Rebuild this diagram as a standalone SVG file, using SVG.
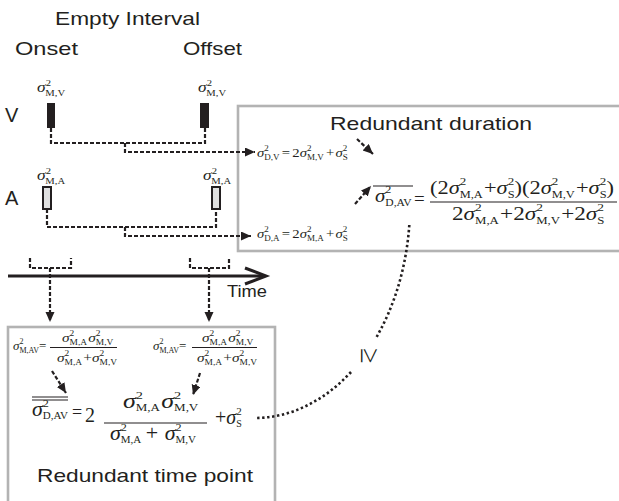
<svg xmlns="http://www.w3.org/2000/svg" width="619" height="501" viewBox="0 0 619 501">
<style>
.lbl{font-family:"Liberation Sans",Arial,Helvetica,sans-serif;fill:#231f20}
.m{font-family:"Liberation Serif","Times New Roman",serif;fill:#231f20}
.i{font-style:italic}
.dash{stroke:#231f20;stroke-width:2.2;stroke-dasharray:4 2;fill:none}
.dot{stroke:#231f20;stroke-width:2.6;stroke-dasharray:2.4 2.6;fill:none}
.box{stroke:#b3b3b3;stroke-width:2.6;fill:none}
.bar{stroke:#231f20;stroke-width:1.1}
</style>
<defs>
<marker id="ah" markerUnits="userSpaceOnUse" markerWidth="12" markerHeight="10" refX="10" refY="4.5" orient="auto">
<path d="M0,0 L10,4.5 L0,9 z" fill="#231f20"/>
</marker>
</defs>

<g id="boxes">
<rect class="box" x="238" y="106" width="400" height="145"/>
<rect class="box" x="8" y="327" width="267" height="200"/>
</g>

<g id="header">
<text class="lbl" x="55" y="25" font-size="19" textLength="145" lengthAdjust="spacingAndGlyphs">Empty Interval</text>
<text class="lbl" x="15" y="55" font-size="19" textLength="63" lengthAdjust="spacingAndGlyphs">Onset</text>
<text class="lbl" x="183" y="55" font-size="19" textLength="59" lengthAdjust="spacingAndGlyphs">Offset</text>
</g>

<g id="visual">
<text class="lbl" x="5" y="122" font-size="20">V</text>
<rect x="47" y="103" width="8" height="25" fill="#231f20"/>
<rect x="200" y="103" width="9" height="25" fill="#231f20"/>
<g transform="translate(37,92) scale(1.25,1)"><text class="m" font-size="14"><tspan class="i">σ</tspan><tspan font-size="8.5" dy="-6.5">2</tspan><tspan font-size="8.5" dx="-4.5" dy="10">M,V</tspan></text></g>
<g transform="translate(198,92) scale(1.25,1)"><text class="m" font-size="14"><tspan class="i">σ</tspan><tspan font-size="8.5" dy="-6.5">2</tspan><tspan font-size="8.5" dx="-4.5" dy="10">M,V</tspan></text></g>
</g>

<g id="auditory">
<text class="lbl" x="5" y="205" font-size="20">A</text>
<rect x="43" y="187" width="8" height="22" fill="#e0e0e0" stroke="#231f20" stroke-width="2"/>
<rect x="212" y="187" width="8" height="22" fill="#e0e0e0" stroke="#231f20" stroke-width="2"/>
<g transform="translate(37,180) scale(1.25,1)"><text class="m" font-size="14"><tspan class="i">σ</tspan><tspan font-size="8.5" dy="-6.5">2</tspan><tspan font-size="8.5" dx="-4.5" dy="10">M,A</tspan></text></g>
<g transform="translate(203,180) scale(1.25,1)"><text class="m" font-size="14"><tspan class="i">σ</tspan><tspan font-size="8.5" dy="-6.5">2</tspan><tspan font-size="8.5" dx="-4.5" dy="10">M,A</tspan></text></g>
</g>

<g id="time-axis">
<line x1="8" y1="276" x2="265" y2="276" stroke="#231f20" stroke-width="3"/>
<polyline points="245,268 266,276 245,284" fill="none" stroke="#231f20" stroke-width="3"/>
<text class="lbl" x="227" y="297" font-size="17" textLength="40" lengthAdjust="spacingAndGlyphs">Time</text>
</g>

<g id="duration">
<text class="lbl" x="330" y="130" font-size="19" textLength="202" lengthAdjust="spacingAndGlyphs">Redundant duration</text>
<g transform="translate(257,157) scale(1.13,1)"><text class="m" font-size="13"><tspan class="i">σ</tspan><tspan font-size="8" dy="-6">2</tspan><tspan font-size="8" dx="-4" dy="9">D,V</tspan><tspan dy="-3" dx="2">=</tspan><tspan dx="2">2</tspan><tspan class="i">σ</tspan><tspan font-size="8" dy="-6">2</tspan><tspan font-size="8" dx="-4" dy="9">M,V</tspan><tspan dy="-3" dx="2">+</tspan><tspan class="i" dx="1">σ</tspan><tspan font-size="8" dy="-6">2</tspan><tspan font-size="8" dx="-4" dy="9">S</tspan></text></g>
<g transform="translate(257,238) scale(1.13,1)"><text class="m" font-size="13"><tspan class="i">σ</tspan><tspan font-size="8" dy="-6">2</tspan><tspan font-size="8" dx="-4" dy="9">D,A</tspan><tspan dy="-3" dx="2">=</tspan><tspan dx="2">2</tspan><tspan class="i">σ</tspan><tspan font-size="8" dy="-6">2</tspan><tspan font-size="8" dx="-4" dy="9">M,A</tspan><tspan dy="-3" dx="2">+</tspan><tspan class="i" dx="1">σ</tspan><tspan font-size="8" dy="-6">2</tspan><tspan font-size="8" dx="-4" dy="9">S</tspan></text></g>
<line class="bar" x1="373" y1="186" x2="413" y2="186"/>
<g transform="translate(375,202) scale(1.1,1)"><text class="m" font-size="19"><tspan class="i">σ</tspan><tspan font-size="11" dy="-9">2</tspan><tspan font-size="10.5" dx="-5.5" dy="13">D,AV</tspan></text></g>
<text class="m" x="414" y="205" font-size="19">=</text>
<line class="bar" x1="430" y1="202" x2="617" y2="202"/>
<g transform="translate(430,194) scale(1.18,1)"><text class="m" font-size="19"><tspan>(2</tspan><tspan class="i">σ</tspan><tspan font-size="11" dy="-9">2</tspan><tspan font-size="10.5" dx="-5.5" dy="13">M,A</tspan><tspan dy="-4" dx="1">+</tspan><tspan class="i">σ</tspan><tspan font-size="11" dy="-9">2</tspan><tspan font-size="10.5" dx="-5.5" dy="13">S</tspan><tspan dy="-4">)(2</tspan><tspan class="i">σ</tspan><tspan font-size="11" dy="-9">2</tspan><tspan font-size="10.5" dx="-5.5" dy="13">M,V</tspan><tspan dy="-4" dx="1">+</tspan><tspan class="i">σ</tspan><tspan font-size="11" dy="-9">2</tspan><tspan font-size="10.5" dx="-5.5" dy="13">S</tspan><tspan dy="-4">)</tspan></text></g>
<g transform="translate(452,220) scale(1.22,1)"><text class="m" font-size="19"><tspan>2</tspan><tspan class="i">σ</tspan><tspan font-size="11" dy="-9">2</tspan><tspan font-size="10.5" dx="-5.5" dy="13">M,A</tspan><tspan dy="-4" dx="1">+2</tspan><tspan class="i">σ</tspan><tspan font-size="11" dy="-9">2</tspan><tspan font-size="10.5" dx="-5.5" dy="13">M,V</tspan><tspan dy="-4" dx="1">+2</tspan><tspan class="i">σ</tspan><tspan font-size="11" dy="-9">2</tspan><tspan font-size="10.5" dx="-5.5" dy="13">S</tspan></text></g>
</g>

<g id="timepoint">
<g transform="translate(13,350)"><text class="m" font-size="13"><tspan class="i">σ</tspan><tspan font-size="8" dy="-6">2</tspan><tspan font-size="8" dx="-4" dy="8.5">M,AV</tspan><tspan dy="-2.5">=</tspan></text></g>
<line class="bar" x1="50" y1="347.5" x2="117" y2="347.5"/>
<g transform="translate(62,342) scale(1.18,1)"><text class="m" font-size="13"><tspan class="i">σ</tspan><tspan font-size="8" dy="-6">2</tspan><tspan font-size="8" dx="-4" dy="8.5">M,A</tspan><tspan class="i" dy="-2.5" dx="1">σ</tspan><tspan font-size="8" dy="-6">2</tspan><tspan font-size="8" dx="-4" dy="8.5">M,V</tspan></text></g>
<g transform="translate(57,362) scale(1.18,1)"><text class="m" font-size="13"><tspan class="i">σ</tspan><tspan font-size="8" dy="-6">2</tspan><tspan font-size="8" dx="-4" dy="8.5">M,A</tspan><tspan dy="-2.5" dx="1">+</tspan><tspan class="i">σ</tspan><tspan font-size="8" dy="-6">2</tspan><tspan font-size="8" dx="-4" dy="8.5">M,V</tspan></text></g>

<g transform="translate(153,350)"><text class="m" font-size="13"><tspan class="i">σ</tspan><tspan font-size="8" dy="-6">2</tspan><tspan font-size="8" dx="-4" dy="8.5">M,AV</tspan><tspan dy="-2.5">=</tspan></text></g>
<line class="bar" x1="192" y1="347.5" x2="257" y2="347.5"/>
<g transform="translate(202,342) scale(1.18,1)"><text class="m" font-size="13"><tspan class="i">σ</tspan><tspan font-size="8" dy="-6">2</tspan><tspan font-size="8" dx="-4" dy="8.5">M,A</tspan><tspan class="i" dy="-2.5" dx="1">σ</tspan><tspan font-size="8" dy="-6">2</tspan><tspan font-size="8" dx="-4" dy="8.5">M,V</tspan></text></g>
<g transform="translate(197,362) scale(1.18,1)"><text class="m" font-size="13"><tspan class="i">σ</tspan><tspan font-size="8" dy="-6">2</tspan><tspan font-size="8" dx="-4" dy="8.5">M,A</tspan><tspan dy="-2.5" dx="1">+</tspan><tspan class="i">σ</tspan><tspan font-size="8" dy="-6">2</tspan><tspan font-size="8" dx="-4" dy="8.5">M,V</tspan></text></g>

<line class="bar" x1="32" y1="397" x2="68" y2="397"/>
<line class="bar" x1="32" y1="400" x2="68" y2="400"/>
<g transform="translate(32,416) scale(1.1,1)"><text class="m" font-size="20"><tspan class="i">σ</tspan><tspan font-size="11" dy="-9">2</tspan><tspan font-size="10" dx="-5.5" dy="12">D,AV</tspan></text></g>
<text class="m" x="72" y="418" font-size="18">=</text>
<text class="m" x="85" y="422" font-size="20">2</text>
<line class="bar" x1="104" y1="423" x2="207" y2="423"/>
<g transform="translate(123,408) scale(1.3,1)"><text class="m" font-size="20"><tspan class="i">σ</tspan><tspan font-size="11" dy="-9">2</tspan><tspan font-size="10" dx="-5.5" dy="12">M,A</tspan><tspan class="i" dy="-3" dx="1">σ</tspan><tspan font-size="11" dy="-9">2</tspan><tspan font-size="10" dx="-5.5" dy="12">M,V</tspan></text></g>
<g transform="translate(110,440) scale(1.1,1)"><text class="m" font-size="20"><tspan class="i">σ</tspan><tspan font-size="11" dy="-9">2</tspan><tspan font-size="10" dx="-5.5" dy="12">M,A</tspan><tspan dy="-3" dx="4">+</tspan><tspan class="i" dx="6">σ</tspan><tspan font-size="11" dy="-9">2</tspan><tspan font-size="10" dx="-5.5" dy="12">M,V</tspan></text></g>
<text class="m" x="215" y="424" font-size="20"><tspan>+</tspan><tspan class="i">σ</tspan><tspan font-size="11" dy="-9">2</tspan><tspan font-size="10" dx="-5.5" dy="12">S</tspan></text>
<text class="lbl" x="37" y="482" font-size="19" textLength="216" lengthAdjust="spacingAndGlyphs">Redundant time point</text>
</g>

<g id="connectors">
<path class="dash" d="M51,128 V143 H205 V128"/>
<path class="dash" d="M125,143 V152 H255" marker-end="url(#ah)"/>
<path class="dash" d="M47,209 V227 H216 V209"/>
<path class="dash" d="M125,227 V236 H251" marker-end="url(#ah)"/>
<path class="dash" d="M30,258 V268 H71 V258"/>
<path class="dash" d="M50,268 V322" marker-end="url(#ah)"/>
<path class="dash" d="M190,258 V268 H229 V258"/>
<path class="dash" d="M209,268 V322" marker-end="url(#ah)"/>
<path class="dash" d="M357,139 L373,154" marker-end="url(#ah)"/>
<path class="dash" d="M355,204 L371,186" marker-end="url(#ah)"/>
<path class="dash" d="M52,371 L66,393" marker-end="url(#ah)"/>
<path class="dash" d="M200,373 L193,395" marker-end="url(#ah)"/>
<path class="dot" d="M409.3,225 A155,213 0 0 1 376,338"/>
<path class="dot" d="M351,372 A155,213 0 0 1 255,418"/>
<text class="m" x="0" y="0" font-size="28" text-anchor="middle" transform="translate(369,356) rotate(90)" dy="8">≥</text>
</g>
</svg>
